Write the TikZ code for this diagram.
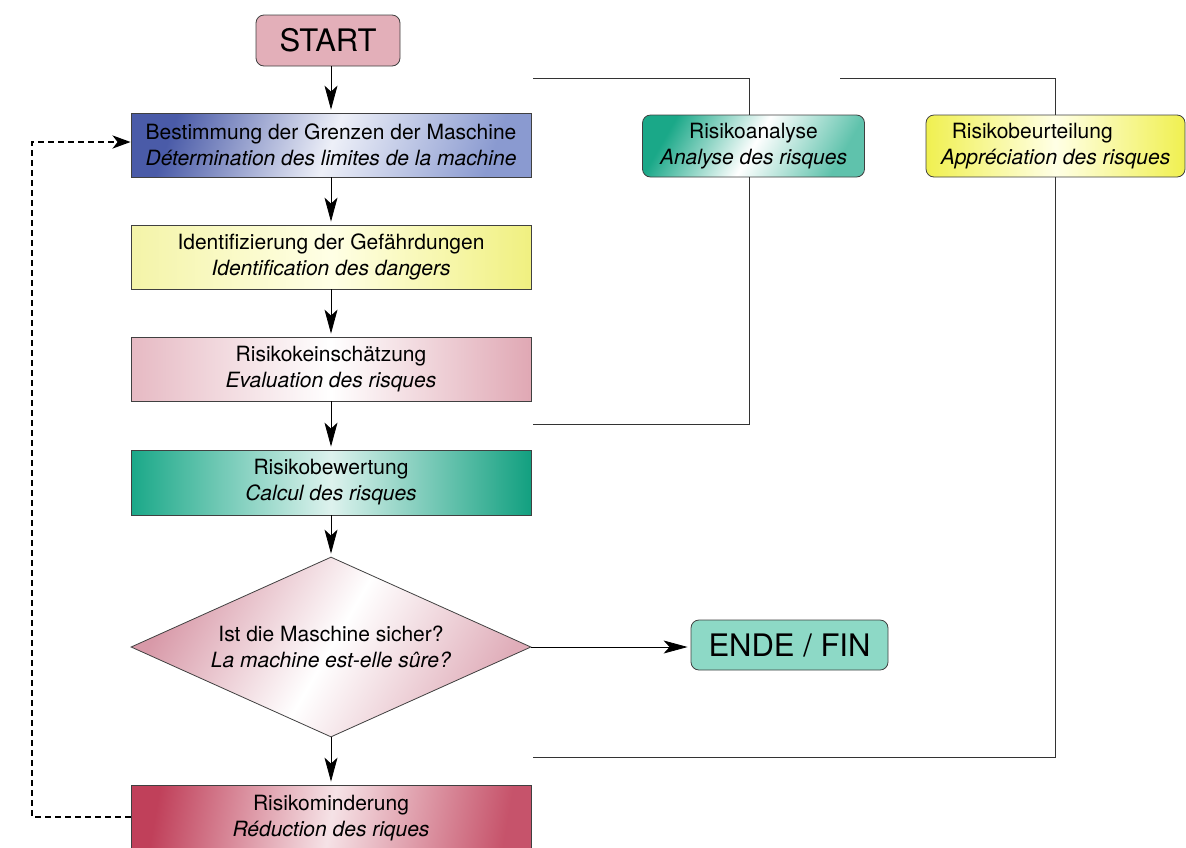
\documentclass[tikz,border=0pt]{standalone}
\usepackage{fontspec}
\setmainfont{TeX Gyre Heros}
\usetikzlibrary{shapes.geometric,arrows.meta}
\definecolor{startpink}{HTML}{E3AFB9}
\definecolor{endteal}{HTML}{8DD9C6}
\definecolor{blueA}{HTML}{4A5BA8}
\definecolor{blueB}{HTML}{8A9AD0}
\definecolor{yelA}{HTML}{F4F4A8}
\definecolor{yelB}{HTML}{F0F080}
\definecolor{pinkA}{HTML}{E0A8B4}
\definecolor{tealA}{HTML}{1AA888}
\definecolor{tealB}{HTML}{12A080}
\definecolor{diaA}{HTML}{D899A8}
\definecolor{redA}{HTML}{C0405A}
\definecolor{ryel}{HTML}{F0F050}
\begin{document}
\begin{tikzpicture}[x=1pt,y=-1pt,
  box/.style={draw=black!75, line width=0.8pt, minimum width=400pt, minimum height=64pt,
    inner sep=0pt, align=center, font=\fontsize{21}{26}\selectfont},
  rbox/.style={box, rounded corners=8pt},
  term/.style={draw=black!75, line width=0.8pt, rounded corners=8pt, inner sep=0pt,
    font=\fontsize{31}{33}\selectfont},
  flow/.style={line width=0.8pt, shorten >=3pt, -{Stealth[length=24pt,width=13pt,inset=6pt]}},
  bracket/.style={line width=0.8pt, draw=black!80},
  back/.style={line width=2.6pt, dash pattern=on 6pt off 4pt, -{Stealth[length=18pt,width=13pt,inset=5pt]}}
]
\useasboundingbox (0,0) rectangle (1186,847);

\node[term, fill=startpink, minimum width=144pt, minimum height=51pt] (start) at (328,40.5) {START};

\node[box, left color=blueA, right color=blueB, middle color=white!85!blueB, shading angle=70] (b1) at (331,145)
  {Bestimmung der Grenzen der Maschine\\\textit{Détermination des limites de la machine}};
\node[box, left color=yelA, right color=yelB, middle color=white!90!yellow] (b2) at (331,257)
  {Identifizierung der Gefährdungen\\\textit{Identification des dangers}};
\node[box, left color=pinkA!80, right color=pinkA, middle color=white] (b3) at (331,369)
  {Risikokeinschätzung\\\textit{Evaluation des risques}};
\node[box, minimum height=65pt, left color=tealA, right color=tealB, middle color=white!85!tealA] (b4) at (331,482.5)
  {Risikobewertung\\\textit{Calcul des risques}};
\node[diamond, draw=black!75, line width=0.8pt, minimum width=400pt, minimum height=180pt,
  inner sep=0pt, shape aspect=2.2, align=center, font=\fontsize{21}{26}\selectfont,
  left color=diaA, right color=diaA!80, middle color=white, shading angle=60] (d) at (331,647)
  {Ist die Maschine sicher?\\\textit{La machine est-elle sûre?}};
\node[box, minimum height=66pt, left color=redA, right color=redA!90, middle color=white!85!redA, shading angle=80] (b5) at (331,818)
  {Risikominderung\\\textit{Réduction des riques}};

\node[term, fill=endteal, minimum width=197pt, minimum height=50pt] (end) at (789.5,645) {ENDE / FIN};

\node[rbox, minimum width=222pt, minimum height=62pt, left color=tealA, right color=tealA!70, middle color=white, shading angle=60] (ra) at (753.5,146)
  {Risikoanalyse\\\textit{Analyse des risques}};
\node[rbox, minimum width=259pt, minimum height=62pt, left color=ryel, right color=ryel, middle color=white!90!yellow, align=left] (rb) at (1055.5,146)
  {\hspace*{11pt}Risikobeurteilung\\\textit{Appréciation des risques}};

\draw[flow] (b1.north |- start.south) -- (b1);
\draw[flow] (b1) -- (b2);
\draw[flow] (b2) -- (b3);
\draw[flow] (b3) -- (b4);
\draw[flow] (b4) -- (d);
\draw[flow] (d) -- (b5);
\draw[flow] (d.east) -- (end.west |- d.east);

\coordinate (ra1) at (533,78);
\coordinate (ra2) at (533,424);
\coordinate (rb1) at (840,78);
\coordinate (rb2) at (533,757);
\draw[bracket] (ra1) -- (749,78) -- (749,115);
\draw[bracket] (749,177) -- (749,424) -- (ra2);
\draw[bracket] (rb1) -- (rb.north |- rb1) -- (rb.north);
\draw[bracket] (rb.south) -- (rb.south |- rb2) -- (rb2);

\coordinate (fb1) at (32,817);
\coordinate (fb2) at (32,142);
\draw[back] (b5.west |- fb1) -- (fb1) -- (fb2) -- ([yshift=3pt]b1.west);
\end{tikzpicture}
\end{document}
